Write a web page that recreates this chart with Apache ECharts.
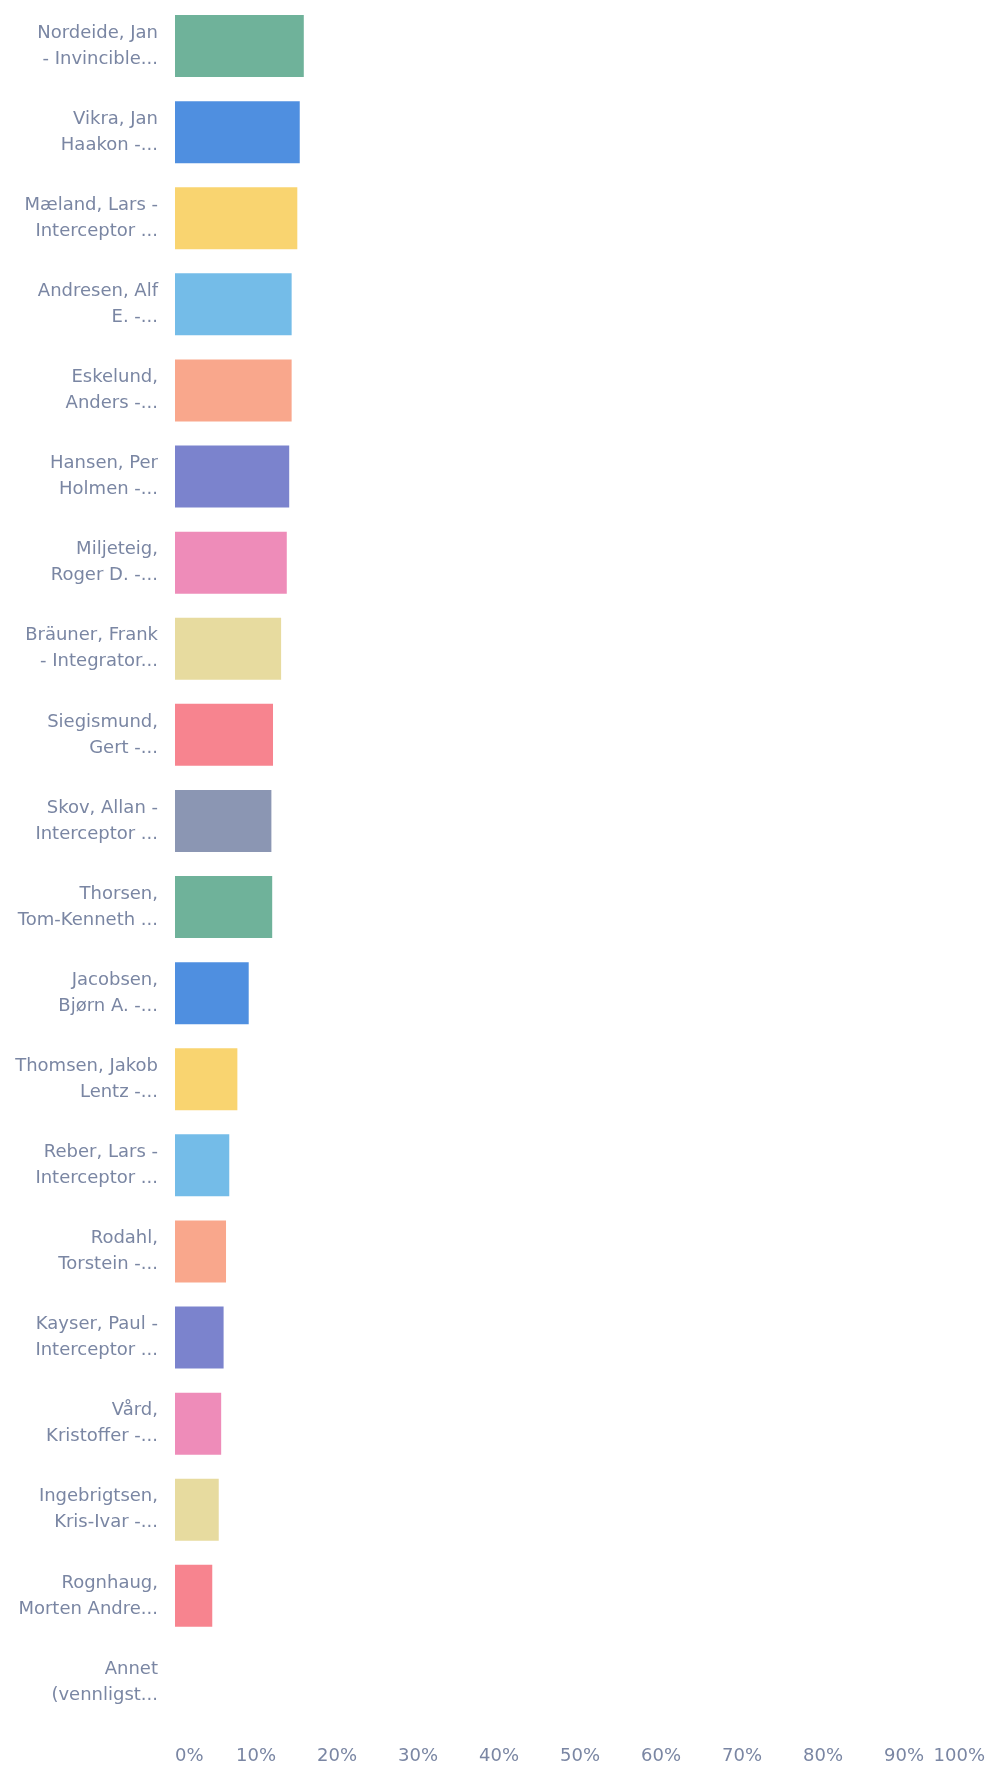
<!DOCTYPE html>
<html>
<head>
<meta charset="utf-8">
<title>Stemmefordeling</title>
<script src="https://cdn.jsdelivr.net/npm/echarts@6/dist/echarts.min.js"></script>
<style>
  html, body { margin: 0; padding: 0; background: #fff; }
  #main { width: 1000px; height: 1776px; }
</style>
</head>
<body>
<div id="main"></div>
<script>
// kategorier (to linjer, forkortet slik som i originalen)
var names = [
  ['Nordeide, Jan', '- Invincible...'],
  ['Vikra, Jan', 'Haakon -...'],
  ['Mæland, Lars -', 'Interceptor ...'],
  ['Andresen, Alf', 'E. -...'],
  ['Eskelund,', 'Anders -...'],
  ['Hansen, Per', 'Holmen -...'],
  ['Miljeteig,', 'Roger D. -...'],
  ['Bräuner, Frank', '- Integrator...'],
  ['Siegismund,', 'Gert -...'],
  ['Skov, Allan -', 'Interceptor ...'],
  ['Thorsen,', 'Tom-Kenneth ...'],
  ['Jacobsen,', 'Bjørn A. -...'],
  ['Thomsen, Jakob', 'Lentz -...'],
  ['Reber, Lars -', 'Interceptor ...'],
  ['Rodahl,', 'Torstein -...'],
  ['Kayser, Paul -', 'Interceptor ...'],
  ['Vård,', 'Kristoffer -...'],
  ['Ingebrigtsen,', 'Kris-Ivar -...'],
  ['Rognhaug,', 'Morten Andre...'],
  ['Annet', '(vennligst...']
];

// andel i prosent
var share = [15.9, 15.4, 15.1, 14.4, 14.4, 14.1, 13.8, 13.1, 12.1, 11.9,
             12.0, 9.1, 7.7, 6.7, 6.3, 6.0, 5.7, 5.4, 4.6, 0];

var barColors = ['#6fb29a', '#4f8fe0', '#f9d470', '#74bce8', '#f9a78c',
                 '#7b83cd', '#ee8cb9', '#e7db9f', '#f7848f', '#8b96b3'];

var categories = names.map(function (n) { return n.join('\n'); });

var chart = echarts.init(document.getElementById('main'));
chart.setOption({
  animation: false,
  grid: { left: 175, right: 15, top: 3, bottom: 51 },
  xAxis: {
    type: 'value',
    min: 0,
    max: 100,
    interval: 10,
    axisLine: { show: false },
    axisTick: { show: false },
    splitLine: { show: false },
    axisLabel: {
      formatter: '{value}%',
      fontFamily: 'DejaVu Sans',
      fontSize: 18,
      color: '#7a86a3',
      margin: 22,
      alignMinLabel: 'left',
      alignMaxLabel: 'right'
    }
  },
  yAxis: {
    type: 'category',
    inverse: true,
    data: categories,
    axisLine: { show: false },
    axisTick: { show: false },
    axisLabel: {
      fontFamily: 'DejaVu Sans',
      fontSize: 18,
      lineHeight: 26,
      color: '#7a86a3',
      margin: 17,
      align: 'right'
    }
  },
  series: [{
    type: 'bar',
    barCategoryGap: '28%',
    data: share.map(function (v, i) {
      return { value: v, itemStyle: { color: barColors[i % barColors.length] } };
    })
  }]
});
</script>
</body>
</html>
